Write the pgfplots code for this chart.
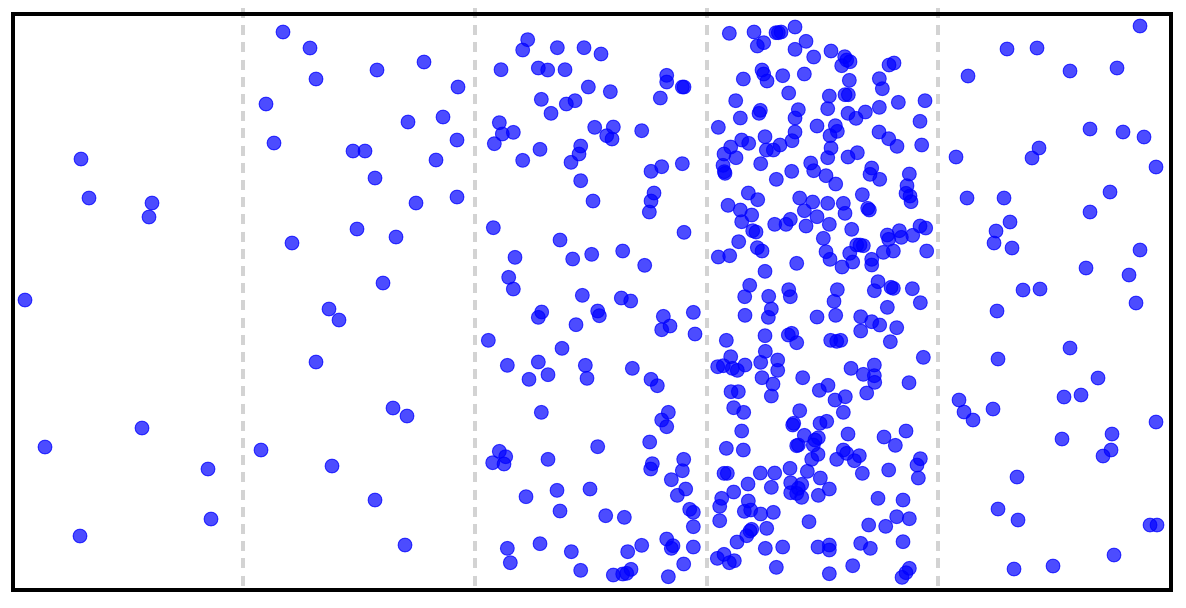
\documentclass[border=0pt]{standalone}
\usepackage{pgfplots}
\pgfplotsset{compat=1.18}
\definecolor{gridgray}{RGB}{211,211,211}
\begin{document}
\begin{tikzpicture}
\begin{axis}[
  x=0.5pt,y=0.5pt,
  xmin=13,xmax=1171,ymin=14,ymax=590,
  y dir=reverse,
  ticks=none,
  clip=false,
  axis line style={line width=2pt,black},
  axis on top,
  pts/.style={only marks,mark=*,mark size=3.45pt,
    mark options={draw=blue,fill=blue,fill opacity=0.7,draw opacity=0.7,line width=0.5pt}},
  guide/.style={no marks,gridgray,line width=1.6pt,dash pattern=on 5pt off 3.6pt},
]
\addplot[draw=none,no marks,forget plot] coordinates {(0,0) (1186,607)};
\addplot[guide] coordinates {(243,8) (243,592)};
\addplot[guide] coordinates {(475,8) (475,592)};
\addplot[guide] coordinates {(707,8) (707,592)};
\addplot[guide] coordinates {(938,8) (938,592)};
% panels 1, 2, 5 (positions in image pixels)
\addplot[pts] table {
x y
81 159
89 198
152 203
149 217
25 300
45 447
142 428
208 469
80 536
211 519
283 32
310 48
316 79
377 70
424 62
458 87
266 104
443 117
408 122
274 143
457 140
353 151
365 151
436 160
375 178
416 203
457 197
357 229
396 237
292 243
383 283
329 309
339 320
316 362
393 408
407 416
261 450
332 466
375 500
405 545
1140 26
1007 49
1037 48
1070 71
1117 68
968 76
1090 129
1123 132
1144 137
1039 148
1032 158
956 157
1156 167
1110 192
967 198
1004 198
1090 212
1010 222
996 231
994 243
1012 248
1140 250
1086 268
1129 275
1023 290
1040 289
1136 303
997 311
998 359
1070 348
1098 378
959 400
964 412
973 420
993 409
1064 397
1081 395
1156 422
1112 434
1062 439
1111 450
1103 456
1017 477
998 509
1018 520
1150 525
1157 525
1114 555
1014 569
1053 566
};
% panel 4, top
\addplot[pts] table[x expr=\thisrow{x}/3+700,y expr=\thisrow{y}/3+10] {
x y
88 70
162 66
172 108
191 98
228 68
235 68
243 66
285 51
318 94
285 118
341 141
393 123
434 140
450 155
425 167
440 150
567 165
582 159
448 211
538 206
547 236
186 180
191 192
201 213
248 197
313 192
130 207
266 249
388 258
435 254
445 254
107 272
181 301
177 310
295 299
383 296
538 292
595 277
675 272
121 324
285 324
444 310
468 325
496 306
660 334
55 352
351 348
406 347
412 364
390 377
537 366
566 386
591 409
665 405
195 380
285 366
276 392
240 405
220 420
199 420
125 390
146 400
92 411
72 432
108 443
69 466
73 485
75 490
182 461
393 414
383 443
444 441
472 428
332 459
341 482
378 497
407 522
515 474
510 493
539 508
628 492
621 527
618 550
630 558
633 575
275 484
229 508
145 549
173 569
299 564
338 576
383 580
430 580
487 554
84 586
};
% panel 4, middle
\addplot[pts] table[x expr=\thisrow{x}/3+700,y expr=\thisrow{y}/3+200] {
x y
121 30
155 45
125 65
158 92
168 96
116 125
172 143
186 153
55 171
89 167
224 73
258 73
271 58
318 78
313 32
351 50
388 73
435 40
503 25
508 30
455 88
370 115
378 155
390 178
426 201
449 160
458 186
470 135
480 135
490 137
515 178
515 195
550 157
580 153
562 105
566 118
598 92
604 112
638 106
660 78
677 84
680 153
290 190
195 214
149 256
134 290
206 289
266 269
271 290
214 327
205 352
135 346
412 269
402 304
407 346
351 351
534 245
523 272
573 262
580 265
637 266
661 308
562 322
482 350
515 365
539 375
482 393
590 383
571 425
670 472
265 405
275 400
290 428
195 407
79 421
392 421
410 424
422 421
196 454
92 470
53 500
70 497
97 505
112 511
135 495
182 487
233 480
233 511
186 533
219 552
214 588
308 533
358 571
384 556
405 600
436 590
453 505
490 523
523 495
523 527
524 547
627 548
500 579
93 575
115 575
};
% panel 4, bottom
\addplot[pts] table[x expr=\thisrow{x}/3+700,y expr=\thisrow{y}/3+395] {
x y
101 38
131 52
125 108
79 160
130 165
299 47
430 52
281 85
278 90
360 85
380 79
444 117
313 121
340 150
355 128
345 135
290 152
295 150
552 126
586 151
618 108
430 165
478 182
463 197
410 193
440 175
354 178
335 193
270 220
322 229
361 249
181 234
224 234
72 235
82 235
487 235
566 225
651 210
661 191
655 249
144 267
214 277
272 263
305 268
295 280
388 282
355 301
272 293
290 295
305 307
101 291
65 310
59 334
145 318
133 349
152 345
182 357
220 352
59 377
534 310
609 315
590 365
628 371
557 394
506 390
327 380
200 400
155 403
150 408
140 422
111 441
196 460
248 456
354 456
388 450
388 465
482 445
511 460
609 440
52 490
72 478
88 503
103 497
229 517
458 512
388 536
628 520
618 533
606 547
};
% panel 3, top
\addplot[pts] table[x expr=\thisrow{x}/3+470,y expr=\thisrow{y}/3+10] {
x y
173 89
158 120
262 113
342 113
393 132
93 179
205 174
233 180
285 179
590 196
590 216
637 231
642 231
355 231
421 245
571 264
214 268
315 272
289 282
243 310
88 338
97 372
130 367
73 401
374 352
430 351
410 377
426 387
515 362
210 418
332 408
327 432
303 457
158 451
575 470
543 484
637 461
332 512
552 549
543 573
538 606
369 573
70 653
642 667
270 690
135 742
308 747
365 733
458 723
524 766
116 802
130 837
337 856
454 864
482 873
};
% panel 3, bottom
\addplot[pts] table[x expr=\thisrow{x}/3+470,y expr=\thisrow{y}/3+300] {
x y
215 36
205 52
383 33
388 47
318 74
580 49
600 78
575 89
670 37
675 102
55 121
276 145
112 196
205 186
234 224
177 238
346 196
351 235
487 205
543 238
562 257
214 337
595 337
575 360
590 380
539 426
383 440
88 454
107 470
68 488
102 492
234 478
547 491
542 507
641 478
637 512
604 539
647 567
622 586
261 571
360 567
168 590
270 633
407 647
463 652
659 628
670 637
670 680
590 717
609 737
604 745
515 736
473 755
670 741
112 745
210 731
304 755
121 788
332 811
641 792
483 808
430 825
458 822
470 820
595 830
};
\end{axis}
\end{tikzpicture}
\end{document}
